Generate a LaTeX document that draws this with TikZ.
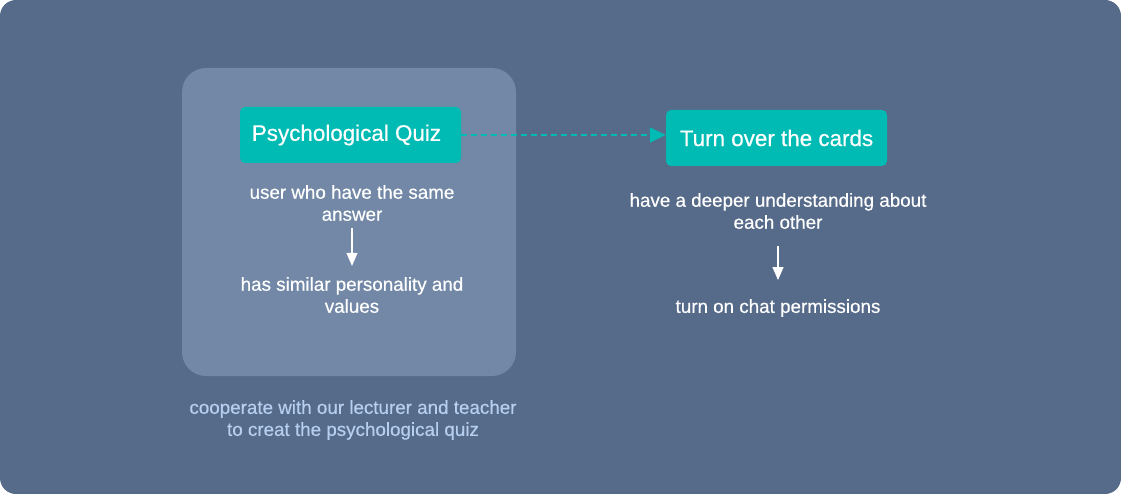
\documentclass[tikz,border=0pt]{standalone}
\usepackage{fontspec}
\setmainfont{Liberation Sans}
\newfontfamily\bodyfont{Liberation Sans}[FakeBold=0.5]
\usetikzlibrary{arrows.meta}
\definecolor{bgblue}{RGB}{86,106,137}
\definecolor{panel}{RGB}{114,136,166}
\definecolor{teal}{RGB}{0,187,179}
\definecolor{note}{RGB}{182,206,240}
\begin{document}
\begin{tikzpicture}[x=1pt,y=-1pt,
  bodytext/.style={text=white,font=\bodyfont\fontsize{18.8}{22}\selectfont,align=center,inner sep=0pt},
  notetext/.style={text=note,font=\bodyfont\fontsize{18.8}{22}\selectfont,align=center,inner sep=0pt},
  tealbox/.style={fill=teal,rounded corners=5pt,text=white,font=\bodyfont\fontsize{22.4}{24}\selectfont,minimum width=221pt,minimum height=56pt,inner sep=0pt},
  whitearrow/.style={draw=white,line width=1.2pt,-{Triangle[width=11pt,length=13pt]}},
  dasharrow/.style={draw=teal,line width=1.8pt,dash pattern=on 6pt off 4pt,-{Triangle[width=15pt,length=16pt]}}
]
\useasboundingbox (0,0) rectangle (1121,494);
\fill[bgblue,rounded corners=16pt] (0,0) rectangle (1121,494);
\fill[panel,rounded corners=24pt] (182,68) rectangle (516,376);
\node[tealbox] (quiz) at (350.5,135) {Psychological Quiz\hspace*{8pt}};
\node[tealbox] (cards) at (776.5,138) {Turn over the cards};
\draw[dasharrow] (quiz.east |- 0,135) -- (cards.west |- 0,135);
\node[bodytext] (same) at (352,203) {user who have the same\\answer};
\node[bodytext] (similar) at (352,295) {has similar personality and\\values};
\draw[whitearrow,shorten <=7pt,shorten >=11pt] (same.south) -- (similar.north);
\node[notetext] (coop) at (353,420) {cooperate with our lecturer and teacher\\to creat the psychological quiz};
\node[bodytext] (deeper) at (778,211) {have a deeper understanding about\\each other};
\node[bodytext] (chat) at (778,308) {turn on chat permissions};
\draw[whitearrow,shorten <=17pt,shorten >=19pt] (deeper.south) -- (chat.north);
\end{tikzpicture}
\end{document}
